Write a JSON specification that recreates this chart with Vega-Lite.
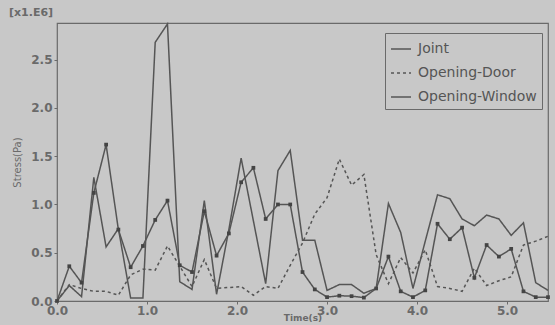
{
  "$schema": "https://vega.github.io/schema/vega-lite/v6.json",
  "autosize": "none",
  "width": 491,
  "height": 278,
  "padding": {"left": 57, "top": 23, "right": 7, "bottom": 24},
  "background": "#c8c8c8",
  "title": {"text": "[x1.E6]", "anchor": "start", "frame": "group", "dx": -48, "offset": 3, "fontSize": 11, "font": "DejaVu Sans", "fontWeight": "bold", "color": "#6a6a6a"},
  "config": {
    "view": {"stroke": "#6a6a6a", "strokeWidth": 1.2, "fill": "#c8c8c8"},
    "font": "DejaVu Sans",
    "axis": {"grid": false, "domain": false, "labelFont": "DejaVu Sans", "labelFontWeight": "bold", "labelColor": "#6a6a6a", "labelFontSize": 12, "tickColor": "#6a6a6a", "tickSize": 3, "titleFont": "DejaVu Sans", "titleColor": "#6a6a6a", "titleFontSize": 10, "titleFontWeight": "bold"}
  },
  "data": {"values": [
    {"t":0,"series":"Joint","v":0},{"t":0.1364,"series":"Joint","v":0.16},{"t":0.2727,"series":"Joint","v":0.045},{"t":0.4091,"series":"Joint","v":1.28},{"t":0.5455,"series":"Joint","v":0.56},{"t":0.6818,"series":"Joint","v":0.75},{"t":0.8182,"series":"Joint","v":0.03},{"t":0.9545,"series":"Joint","v":0.03},{"t":1.0909,"series":"Joint","v":2.68},{"t":1.2273,"series":"Joint","v":2.87},{"t":1.3636,"series":"Joint","v":0.2},{"t":1.5,"series":"Joint","v":0.12},{"t":1.6364,"series":"Joint","v":1.04},{"t":1.7727,"series":"Joint","v":0.07},{"t":1.9091,"series":"Joint","v":0.74},{"t":2.0455,"series":"Joint","v":1.48},{"t":2.1818,"series":"Joint","v":0.83},{"t":2.3182,"series":"Joint","v":0.18},{"t":2.4545,"series":"Joint","v":1.35},{"t":2.5909,"series":"Joint","v":1.56},{"t":2.7273,"series":"Joint","v":0.63},{"t":2.8636,"series":"Joint","v":0.63},{"t":3.0,"series":"Joint","v":0.11},{"t":3.1364,"series":"Joint","v":0.17},{"t":3.2727,"series":"Joint","v":0.17},{"t":3.4091,"series":"Joint","v":0.08},{"t":3.5455,"series":"Joint","v":0.13},{"t":3.6818,"series":"Joint","v":1.01},{"t":3.8182,"series":"Joint","v":0.71},{"t":3.9545,"series":"Joint","v":0.13},{"t":4.0909,"series":"Joint","v":0.62},{"t":4.2273,"series":"Joint","v":1.1},{"t":4.3636,"series":"Joint","v":1.06},{"t":4.5,"series":"Joint","v":0.85},{"t":4.6364,"series":"Joint","v":0.78},{"t":4.7727,"series":"Joint","v":0.89},{"t":4.9091,"series":"Joint","v":0.85},{"t":5.0455,"series":"Joint","v":0.68},{"t":5.1818,"series":"Joint","v":0.81},{"t":5.3182,"series":"Joint","v":0.19},{"t":5.4545,"series":"Joint","v":0.11},
    {"t":0,"series":"Opening-Door","v":0},{"t":0.1364,"series":"Opening-Door","v":0.17},{"t":0.2727,"series":"Opening-Door","v":0.13},{"t":0.4091,"series":"Opening-Door","v":0.1},{"t":0.5455,"series":"Opening-Door","v":0.1},{"t":0.6818,"series":"Opening-Door","v":0.06},{"t":0.8182,"series":"Opening-Door","v":0.27},{"t":0.9545,"series":"Opening-Door","v":0.33},{"t":1.0909,"series":"Opening-Door","v":0.32},{"t":1.2273,"series":"Opening-Door","v":0.57},{"t":1.3636,"series":"Opening-Door","v":0.36},{"t":1.5,"series":"Opening-Door","v":0.15},{"t":1.6364,"series":"Opening-Door","v":0.43},{"t":1.7727,"series":"Opening-Door","v":0.13},{"t":1.9091,"series":"Opening-Door","v":0.14},{"t":2.0455,"series":"Opening-Door","v":0.15},{"t":2.1818,"series":"Opening-Door","v":0.06},{"t":2.3182,"series":"Opening-Door","v":0.15},{"t":2.4545,"series":"Opening-Door","v":0.13},{"t":2.5909,"series":"Opening-Door","v":0.37},{"t":2.7273,"series":"Opening-Door","v":0.6},{"t":2.8636,"series":"Opening-Door","v":0.9},{"t":3.0,"series":"Opening-Door","v":1.07},{"t":3.1364,"series":"Opening-Door","v":1.47},{"t":3.2727,"series":"Opening-Door","v":1.2},{"t":3.4091,"series":"Opening-Door","v":1.31},{"t":3.5455,"series":"Opening-Door","v":0.48},{"t":3.6818,"series":"Opening-Door","v":0.18},{"t":3.8182,"series":"Opening-Door","v":0.45},{"t":3.9545,"series":"Opening-Door","v":0.29},{"t":4.0909,"series":"Opening-Door","v":0.53},{"t":4.2273,"series":"Opening-Door","v":0.15},{"t":4.3636,"series":"Opening-Door","v":0.13},{"t":4.5,"series":"Opening-Door","v":0.1},{"t":4.6364,"series":"Opening-Door","v":0.34},{"t":4.7727,"series":"Opening-Door","v":0.16},{"t":4.9091,"series":"Opening-Door","v":0.21},{"t":5.0455,"series":"Opening-Door","v":0.25},{"t":5.1818,"series":"Opening-Door","v":0.58},{"t":5.3182,"series":"Opening-Door","v":0.62},{"t":5.4545,"series":"Opening-Door","v":0.67},
    {"t":0,"series":"Opening-Window","v":0},{"t":0.1364,"series":"Opening-Window","v":0.36},{"t":0.2727,"series":"Opening-Window","v":0.19},{"t":0.4091,"series":"Opening-Window","v":1.12},{"t":0.5455,"series":"Opening-Window","v":1.62},{"t":0.6818,"series":"Opening-Window","v":0.74},{"t":0.8182,"series":"Opening-Window","v":0.35},{"t":0.9545,"series":"Opening-Window","v":0.57},{"t":1.0909,"series":"Opening-Window","v":0.84},{"t":1.2273,"series":"Opening-Window","v":1.04},{"t":1.3636,"series":"Opening-Window","v":0.37},{"t":1.5,"series":"Opening-Window","v":0.3},{"t":1.6364,"series":"Opening-Window","v":0.93},{"t":1.7727,"series":"Opening-Window","v":0.47},{"t":1.9091,"series":"Opening-Window","v":0.7},{"t":2.0455,"series":"Opening-Window","v":1.23},{"t":2.1818,"series":"Opening-Window","v":1.38},{"t":2.3182,"series":"Opening-Window","v":0.85},{"t":2.4545,"series":"Opening-Window","v":1.0},{"t":2.5909,"series":"Opening-Window","v":1.0},{"t":2.7273,"series":"Opening-Window","v":0.3},{"t":2.8636,"series":"Opening-Window","v":0.12},{"t":3.0,"series":"Opening-Window","v":0.04},{"t":3.1364,"series":"Opening-Window","v":0.055},{"t":3.2727,"series":"Opening-Window","v":0.05},{"t":3.4091,"series":"Opening-Window","v":0.035},{"t":3.5455,"series":"Opening-Window","v":0.13},{"t":3.6818,"series":"Opening-Window","v":0.46},{"t":3.8182,"series":"Opening-Window","v":0.1},{"t":3.9545,"series":"Opening-Window","v":0.04},{"t":4.0909,"series":"Opening-Window","v":0.11},{"t":4.2273,"series":"Opening-Window","v":0.8},{"t":4.3636,"series":"Opening-Window","v":0.64},{"t":4.5,"series":"Opening-Window","v":0.76},{"t":4.6364,"series":"Opening-Window","v":0.24},{"t":4.7727,"series":"Opening-Window","v":0.58},{"t":4.9091,"series":"Opening-Window","v":0.46},{"t":5.0455,"series":"Opening-Window","v":0.54},{"t":5.1818,"series":"Opening-Window","v":0.1},{"t":5.3182,"series":"Opening-Window","v":0.04},{"t":5.4545,"series":"Opening-Window","v":0.04}
  ]},
  "encoding": {
    "x": {"field": "t", "type": "quantitative", "scale": {"domain": [0, 5.4545], "nice": false, "zero": false},
      "axis": {"title": "Time(s)", "values": [0, 1, 2, 3, 4, 5], "format": ".1f", "labelPadding": 1, "titleFontSize": 9, "titleY": 12, "titleBaseline": "top", "labelFlush": false}},
    "y": {"field": "v", "type": "quantitative", "scale": {"domain": [0, 2.88], "nice": false},
      "axis": {"title": "Stress(Pa)", "values": [0, 0.5, 1, 1.5, 2, 2.5], "format": ".1f", "labelPadding": 2, "titlePadding": 8, "titleFontWeight": "normal", "labelFlush": false}}
  },
  "layer": [
    {
      "mark": {"type": "line", "color": "#555555", "strokeWidth": 1.5},
      "encoding": {
        "detail": {"field": "series"},
        "strokeDash": {"field": "series", "type": "nominal",
          "scale": {"domain": ["Joint", "Opening-Door", "Opening-Window"], "range": [[1, 0], [3, 3], [1, 0]]},
          "legend": {"title": null, "orient": "none", "legendX": 328, "legendY": 10, "strokeColor": "#6a6a6a", "fillColor": null, "padding": 5, "labelFontSize": 14, "labelFont": "DejaVu Sans", "labelColor": "#555555", "symbolType": "stroke", "symbolSize": 400, "symbolStrokeWidth": 1.5, "symbolStrokeColor": "#555555", "rowPadding": 6, "labelOffset": 6}}
      }
    },
    {
      "transform": [{"filter": "datum.series === 'Opening-Window'"}],
      "mark": {"type": "point", "shape": "square", "filled": true, "color": "#444444", "size": 14, "opacity": 1}
    }
  ]
}
